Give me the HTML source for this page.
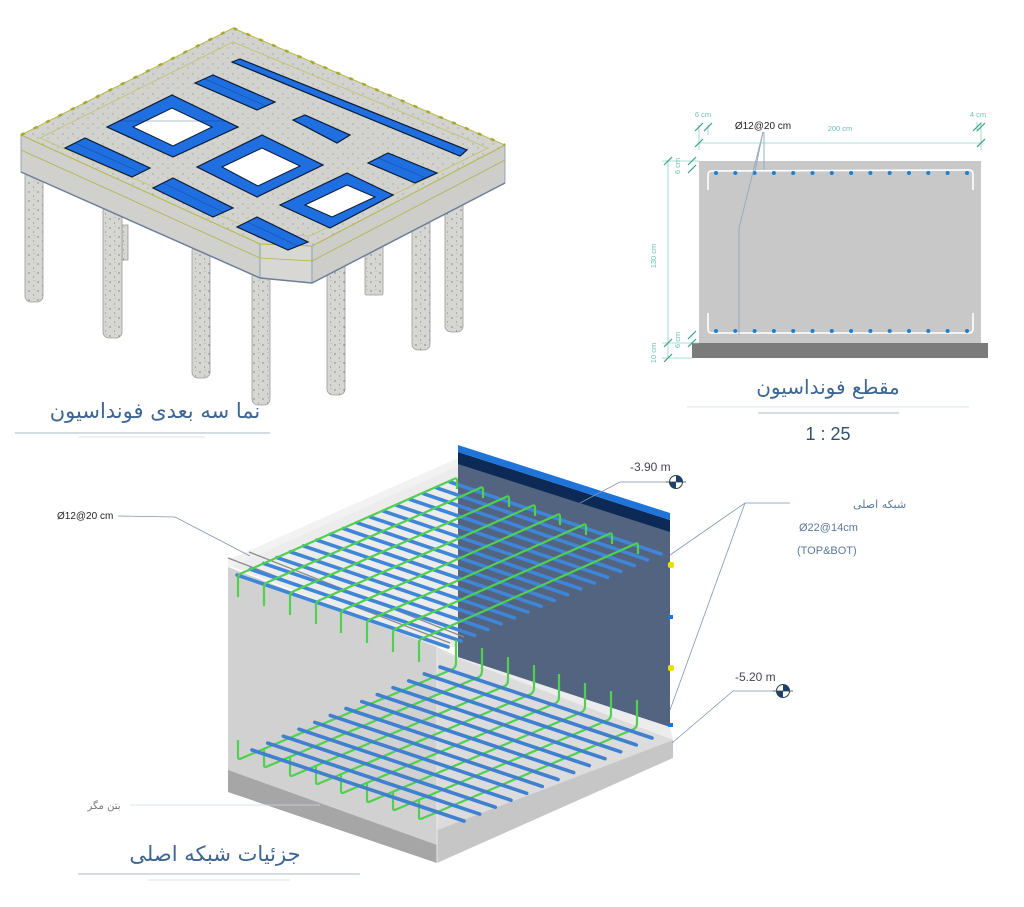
<!DOCTYPE html>
<html><head><meta charset="utf-8"><style>
html,body{margin:0;padding:0;background:#fff;}
svg{display:block;}
.fa{font-family:"DejaVu Sans",sans-serif;}
.la{font-family:"Liberation Sans",sans-serif;}
</style></head><body>
<svg width="1024" height="907" viewBox="0 0 1024 907" xmlns="http://www.w3.org/2000/svg">
<defs>
<pattern id="sp" width="9" height="9" patternUnits="userSpaceOnUse">
<rect width="9" height="9" fill="#d6d6d2"/>
<circle cx="2" cy="3" r="0.6" fill="#555"/><circle cx="6.5" cy="7" r="0.5" fill="#666"/><circle cx="7" cy="1.5" r="0.4" fill="#777"/>
</pattern>
<pattern id="sp2" width="10" height="10" patternUnits="userSpaceOnUse">
<rect width="10" height="10" fill="#d2d2cf"/>
<circle cx="3" cy="4" r="0.5" fill="#666"/><circle cx="8" cy="8" r="0.5" fill="#777"/>
</pattern>
<line id="bt" x1="0" y1="0" x2="211" y2="72" stroke="#3f86d8" stroke-width="3.6" stroke-linecap="round"/>
<line id="bb" x1="0" y1="0" x2="212" y2="71" stroke="#3f80d0" stroke-width="3.6" stroke-linecap="round"/>
<path id="gt" d="M0,22 L0,3 Q0,0 3,-1.5 L216,-96 Q219,-98 219,-94 L219,-86" fill="none" stroke="#4fd04f" stroke-width="2.2"/>
<path id="gb" d="M0,-20 L0,-3 Q0,0 3,-1.5 L215,-91 Q218,-93 218,-97 L218,-120" fill="none" stroke="#4fd04f" stroke-width="2.2"/>
</defs>

<!-- ===== top-left 3D foundation ===== -->
<g stroke="#9a9a98" stroke-width="0.8">
<rect x="122" y="225" width="6" height="35" fill="url(#sp)"/>
<rect x="365" y="245" width="18" height="50" rx="2" fill="url(#sp)"/>
<rect x="25" y="170" width="18" height="132" rx="6" fill="url(#sp)"/>
<rect x="103" y="205" width="19" height="133" rx="6" fill="url(#sp)"/>
<rect x="192" y="245" width="18" height="133" rx="6" fill="url(#sp)"/>
<rect x="252" y="270" width="18" height="135" rx="6" fill="url(#sp)"/>
<rect x="327" y="260" width="18" height="135" rx="6" fill="url(#sp)"/>
<rect x="412" y="215" width="18" height="135" rx="6" fill="url(#sp)"/>
<rect x="445" y="195" width="18" height="137" rx="6" fill="url(#sp)"/>
</g>
<polygon points="21,135 260,244 260,278 21,172" fill="#d0d0cd" stroke="#8b96a8" stroke-width="0.8"/>
<polygon points="260,244 312,246 312,283 260,278" fill="#d7d7d4" stroke="#8b96a8" stroke-width="0.8"/>
<polygon points="312,246 505,145 505,183 312,283" fill="#cdcdca" stroke="#8b96a8" stroke-width="0.8"/>
<polyline points="21,172 260,278 312,283 505,183" fill="none" stroke="#6d7f9a" stroke-width="1.5"/>
<polygon points="21,135 233,28 505,145 312,246 260,244" fill="url(#sp2)" stroke="#b9b94a" stroke-width="1"/>
<polygon points="40,138 233,42 488,148 310,236 263,234" fill="none" stroke="#c2c26a" stroke-width="0.8"/>
<polyline points="21,135 233,28 505,145" fill="none" stroke="#a8a830" stroke-width="2.5" stroke-dasharray="4,10"/>
<polyline points="21,150 260,258 312,261 505,160" fill="none" stroke="#b3b34a" stroke-width="0.8"/>
<g fill="#1f6fe0" stroke="#0a1a33" stroke-width="1.2">
<polygon points="65,148 85,138 150,168 132,177"/>
<polygon points="107,127 172,95 238,127 173,157"/>
<polygon points="195,83 213,75 275,102 257,110"/>
<polygon points="232,62 240,59 467,150 460,156"/>
<polygon points="293,120 305,115 350,135 337,143"/>
<polygon points="197,167 262,135 323,165 257,197"/>
<polygon points="153,188 173,178 233,208 213,217"/>
<polygon points="368,163 388,153 437,173 415,183"/>
<polygon points="280,205 347,173 393,195 330,228"/>
<polygon points="237,227 257,217 308,242 288,250"/>
</g>
<g fill="#fff" stroke="#0a1a33" stroke-width="1">
<polygon points="133,127 172,108 212,127 173,146"/>
<polygon points="222,167 262,148 300,166 258,186"/>
<polygon points="305,205 347,185 375,197 332,217"/>
</g>
<g stroke="#0a2a66" stroke-width="0.5" opacity="0.6">
<line x1="75" y1="143" x2="140" y2="172"/><line x1="120" y1="121" x2="225" y2="121"/>
<line x1="205" y1="79" x2="266" y2="106"/><line x1="163" y1="183" x2="223" y2="212"/>
<line x1="247" y1="222" x2="298" y2="246"/><line x1="378" y1="158" x2="426" y2="178"/>
</g>
<text x="155" y="418" class="fa" font-size="21" fill="#3d6593" text-anchor="middle" direction="rtl">نما سه بعدی فونداسیون</text>
<line x1="15" y1="433" x2="270" y2="433" stroke="#a9b8c8" stroke-width="1"/>
<line x1="78" y1="437" x2="205" y2="437" stroke="#dde3ea" stroke-width="1"/>

<!-- ===== section ===== -->
<rect x="699" y="161" width="282" height="182" fill="#c8c8c8"/>
<rect x="692" y="343" width="296" height="15" fill="#7b7b7b"/>
<path d="M708,190 L708,175 Q708,171 712,171 L969,170 Q973,170 973,174 L973,190" fill="none" stroke="#fff" stroke-width="1.6"/>
<path d="M708,313 L708,329 Q708,333 712,333 L969,333 Q973,333 973,329 L973,313" fill="none" stroke="#fff" stroke-width="1.6"/>
<g fill="#1a7fd0">
<circle cx="716" cy="173" r="2"/><circle cx="735.3" cy="173" r="2"/><circle cx="754.6" cy="173" r="2"/><circle cx="773.9" cy="173" r="2"/><circle cx="793.2" cy="173" r="2"/><circle cx="812.5" cy="173" r="2"/><circle cx="831.8" cy="173" r="2"/><circle cx="851.1" cy="173" r="2"/><circle cx="870.4" cy="173" r="2"/><circle cx="889.7" cy="173" r="2"/><circle cx="909" cy="173" r="2"/><circle cx="928.3" cy="173" r="2"/><circle cx="947.6" cy="173" r="2"/><circle cx="967" cy="173" r="2"/>
<circle cx="716" cy="331" r="2"/><circle cx="735.3" cy="331" r="2"/><circle cx="754.6" cy="331" r="2"/><circle cx="773.9" cy="331" r="2"/><circle cx="793.2" cy="331" r="2"/><circle cx="812.5" cy="331" r="2"/><circle cx="831.8" cy="331" r="2"/><circle cx="851.1" cy="331" r="2"/><circle cx="870.4" cy="331" r="2"/><circle cx="889.7" cy="331" r="2"/><circle cx="909" cy="331" r="2"/><circle cx="928.3" cy="331" r="2"/><circle cx="947.6" cy="331" r="2"/><circle cx="967" cy="331" r="2"/>
</g>
<g stroke="#8fa7c4" stroke-width="0.9" fill="none">
<polyline points="763,132 755,171"/><polyline points="764,132 764,170"/>
<polyline points="763,132 739,228 739,335"/>
</g>
<g stroke="#8cd0c6" stroke-width="0.8" fill="none">
<line x1="699" y1="143" x2="981" y2="143"/>
<line x1="699" y1="125" x2="699" y2="150"/><line x1="708" y1="125" x2="708" y2="135"/><line x1="981" y1="122" x2="981" y2="150"/><line x1="977" y1="122" x2="977" y2="132"/>
<line x1="668" y1="160" x2="668" y2="358"/>
<line x1="662" y1="161" x2="699" y2="161"/><line x1="662" y1="343" x2="699" y2="343"/><line x1="662" y1="358" x2="692" y2="358"/>
</g>
<g stroke="#3aa088" stroke-width="1.2">
<line x1="695" y1="147" x2="703" y2="139"/><line x1="695" y1="131" x2="703" y2="123"/><line x1="704" y1="131" x2="712" y2="123"/>
<line x1="977" y1="147" x2="985" y2="139"/><line x1="973" y1="131" x2="981" y2="123"/><line x1="977" y1="131" x2="985" y2="123"/>
<line x1="664" y1="165" x2="672" y2="157"/><line x1="664" y1="347" x2="672" y2="339"/><line x1="664" y1="362" x2="672" y2="354"/>
<line x1="688" y1="165" x2="696" y2="157"/><line x1="688" y1="173" x2="696" y2="165"/><line x1="688" y1="339" x2="696" y2="331"/><line x1="688" y1="347" x2="696" y2="339"/>
</g>
<g class="la" font-size="7.5" fill="#6cc0b4">
<text x="703" y="117" text-anchor="middle">6 cm</text>
<text x="978" y="117" text-anchor="middle">4 cm</text>
<text x="840" y="131" text-anchor="middle">200 cm</text>
<text transform="translate(656,256) rotate(-90)" text-anchor="middle">130 cm</text>
<text transform="translate(680,166) rotate(-90)" text-anchor="middle">6 cm</text>
<text transform="translate(680,340) rotate(-90)" text-anchor="middle">6 cm</text>
<text transform="translate(656,353) rotate(-90)" text-anchor="middle">10 cm</text>
</g>
<text x="763" y="129" class="la" font-size="10" fill="#222" text-anchor="middle">Ø12@20 cm</text>
<text x="828" y="394" class="fa" font-size="20" fill="#3d6593" text-anchor="middle" direction="rtl">مقطع فونداسیون</text>
<line x1="687" y1="407" x2="969" y2="407" stroke="#dde3ea" stroke-width="1"/>
<line x1="758" y1="413" x2="899" y2="413" stroke="#a9b8c8" stroke-width="1"/>
<text x="828" y="440" class="la" font-size="18" fill="#34506e" text-anchor="middle">1 : 25</text>

<!-- ===== rebar detail ===== -->
<polygon points="228,565 458,462 458,647 437,647" fill="#ececec"/>
<polygon points="228,560 458,458 458,466 228,568" fill="#f2f2f2"/>
<polygon points="437,647 458,657 670,730 673,740 437,830" fill="#dcdcdc"/>
<polygon points="458,657 670,727 673,740 437,650" fill="#ececec"/>
<polygon points="458,462 670,530 670,727 458,657" fill="#52647f"/>
<polygon points="458,452 670,520 670,532 458,464" fill="#0c2a55"/>
<polygon points="458,445 670,513 670,520 458,452" fill="#1f74da"/>
<g fill="#1f74da"><rect x="668" y="615" width="5" height="4"/><rect x="668" y="723" width="5" height="4"/></g>
<g fill="#e8e000"><rect x="668" y="562" width="6" height="6" rx="2"/><rect x="668" y="665" width="6" height="6" rx="2"/></g>
<polygon points="228,567 437,647 437,863 228,792" fill="#cfcfcf" opacity="0.95"/>
<polygon points="228,770 437,845 437,863 228,792" fill="#a6a6a6"/>
<polygon points="437,830 673,740 673,758 437,863" fill="#c6c6c6"/>
<line x1="437" y1="647" x2="437" y2="863" stroke="#e8e8e8" stroke-width="1"/>
<line x1="249" y1="552" x2="464" y2="637" stroke="#8a8a8a" stroke-width="1.3"/>
<line x1="228" y1="558" x2="450" y2="643" stroke="#8a8a8a" stroke-width="1.3"/>
<use href="#bt" x="450" y="482"/><use href="#bt" x="436.5" y="487.8"/><use href="#bt" x="423.2" y="493.6"/><use href="#bt" x="409.9" y="499.4"/><use href="#bt" x="396.6" y="505.3"/><use href="#bt" x="383.3" y="511.1"/><use href="#bt" x="370" y="516.9"/><use href="#bt" x="356.7" y="522.7"/><use href="#bt" x="343.4" y="528.5"/><use href="#bt" x="330.1" y="534.3"/><use href="#bt" x="316.8" y="540.1"/><use href="#bt" x="303.5" y="545.9"/><use href="#bt" x="290.2" y="551.8"/><use href="#bt" x="276.9" y="557.6"/><use href="#bt" x="263.6" y="563.4"/><use href="#bt" x="250.3" y="569.2"/><use href="#bt" x="237" y="575"/>
<use href="#gt" x="238" y="575"/><use href="#gt" x="264" y="584"/><use href="#gt" x="290" y="593"/><use href="#gt" x="316" y="602"/><use href="#gt" x="341" y="611"/><use href="#gt" x="367" y="621"/><use href="#gt" x="393" y="630"/><use href="#gt" x="419" y="640"/>
<use href="#gb" x="238" y="760"/><use href="#gb" x="264" y="768"/><use href="#gb" x="290" y="777"/><use href="#gb" x="316" y="785"/><use href="#gb" x="341" y="794"/><use href="#gb" x="367" y="803"/><use href="#gb" x="393" y="811"/><use href="#gb" x="419" y="820"/>
<use href="#bb" x="440" y="667"/><use href="#bb" x="424.3" y="673.9"/><use href="#bb" x="408.7" y="680.8"/><use href="#bb" x="393" y="687.7"/><use href="#bb" x="377.3" y="694.6"/><use href="#bb" x="361.7" y="701.6"/><use href="#bb" x="346" y="708.5"/><use href="#bb" x="330.3" y="715.4"/><use href="#bb" x="314.7" y="722.3"/><use href="#bb" x="299" y="729.2"/><use href="#bb" x="283.3" y="736.2"/><use href="#bb" x="267.7" y="743.1"/><use href="#bb" x="252" y="750"/>

<text x="57" y="519" class="la" font-size="10" fill="#222">Ø12@20 cm</text>
<polyline points="118,516 175,517 250,556" fill="none" stroke="#7f95b0" stroke-width="0.8"/>
<text x="853" y="508" class="fa" font-size="11" fill="#5a7a9a" text-anchor="end" direction="rtl">شبکه اصلی</text>
<text x="799" y="531" class="la" font-size="11" fill="#5a7a9a">Ø22@14cm</text>
<text x="797" y="554" class="la" font-size="11" fill="#5a7a9a">(TOP&amp;BOT)</text>
<g fill="none" stroke="#7f95b0" stroke-width="0.8">
<polyline points="790,503 745,503 670,555"/>
<line x1="745" y1="503" x2="670" y2="710"/>
<polyline points="676,482 620,482 580,503"/>
<polyline points="783,691 733,691 672,743"/>
<line x1="130" y1="805" x2="320" y2="805" stroke="#cfd7e0"/>
</g>
<text x="630" y="471" class="la" font-size="12" fill="#445">-3.90 m</text>
<text x="735" y="681" class="la" font-size="12" fill="#445">-5.20 m</text>
<g>
<circle cx="676" cy="482" r="6.5" fill="#fff" stroke="#244" stroke-width="1"/>
<path d="M676,482 L676,475.5 A6.5,6.5 0 0 1 682.5,482 Z M676,482 L676,488.5 A6.5,6.5 0 0 1 669.5,482 Z" fill="#1f3f6f"/>
<line x1="666" y1="482" x2="686" y2="482" stroke="#244" stroke-width="0.8"/>
<circle cx="783" cy="691" r="6.5" fill="#fff" stroke="#244" stroke-width="1"/>
<path d="M783,691 L783,684.5 A6.5,6.5 0 0 1 789.5,691 Z M783,691 L783,697.5 A6.5,6.5 0 0 1 776.5,691 Z" fill="#1f3f6f"/>
<line x1="773" y1="691" x2="793" y2="691" stroke="#244" stroke-width="0.8"/>
</g>
<text x="104" y="809" class="fa" font-size="10" fill="#777" text-anchor="middle" direction="rtl">بتن مگر</text>
<text x="215" y="861" class="fa" font-size="21" fill="#3d6593" text-anchor="middle" direction="rtl">جزئیات شبکه اصلی</text>
<line x1="78" y1="874" x2="360" y2="874" stroke="#a9b8c8" stroke-width="1"/>
<line x1="148" y1="880" x2="290" y2="880" stroke="#dde3ea" stroke-width="1"/>
</svg>
</body></html>
